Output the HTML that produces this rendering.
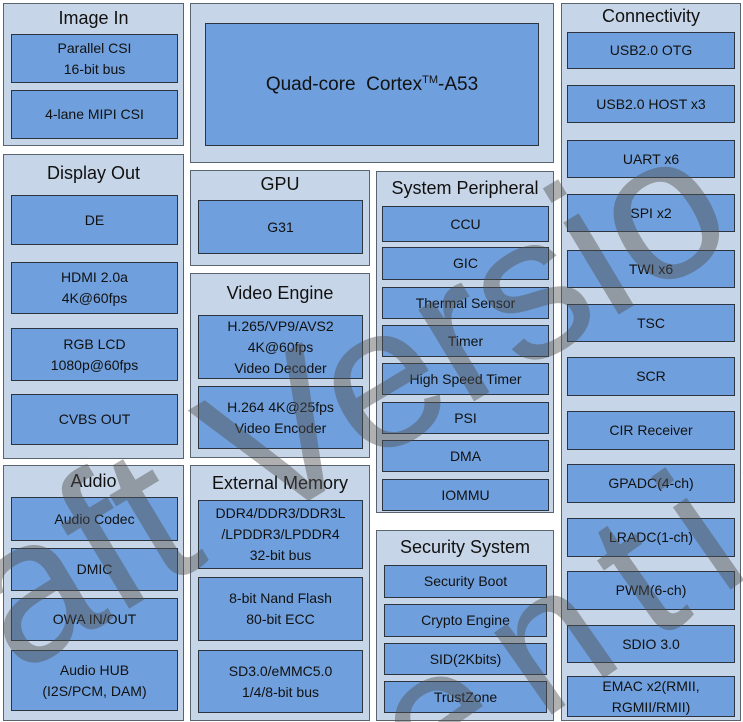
<!DOCTYPE html>
<html style="overflow:hidden;height:722px"><head><meta charset="utf-8"><style>
body{margin:0;width:743px;height:722px;background:#fff;position:relative;overflow:hidden;font-family:"Liberation Sans",sans-serif}
.c{position:absolute;background:#c6d5e7;border:1.5px solid #5a6470;box-sizing:border-box}
.t{position:absolute;font-size:18px;color:#111;text-align:center;white-space:nowrap}
.b{position:absolute;background:#6f9fdc;border:1.5px solid #2c3440;box-sizing:border-box;display:flex;align-items:center;justify-content:center;text-align:center;font-size:14px;line-height:21px;color:#111}
</style></head><body>
<div class="c" style="left:3px;top:3px;width:181px;height:143px"></div>
<div class="t" style="left:3px;top:8px;width:181px">Image In</div>
<div class="b" style="left:11px;top:34px;width:167px;height:49px">Parallel CSI<br>16-bit bus</div>
<div class="b" style="left:11px;top:90px;width:167px;height:49px">4-lane MIPI CSI</div>

<div class="c" style="left:190px;top:3px;width:364px;height:160px"></div>
<div class="b" style="left:205px;top:23px;width:334px;height:123px;font-size:19px">Quad-core&nbsp; Cortex<sup style="font-size:11px;position:relative;top:-4px">TM</sup>-A53</div>

<div class="c" style="left:561px;top:3px;width:180px;height:718px"></div>
<div class="t" style="left:561px;top:6px;width:180px">Connectivity</div>
<div class="b" style="left:567px;top:32px;width:168px;height:37px">USB2.0 OTG</div>
<div class="b" style="left:567px;top:85px;width:168px;height:38px">USB2.0 HOST x3</div>
<div class="b" style="left:567px;top:140px;width:168px;height:38px">UART x6</div>
<div class="b" style="left:567px;top:194px;width:168px;height:38px">SPI x2</div>
<div class="b" style="left:567px;top:250px;width:168px;height:38px">TWI x6</div>
<div class="b" style="left:567px;top:304px;width:168px;height:38px">TSC</div>
<div class="b" style="left:567px;top:357px;width:168px;height:39px">SCR</div>
<div class="b" style="left:567px;top:411px;width:168px;height:39px">CIR Receiver</div>
<div class="b" style="left:567px;top:464px;width:168px;height:39px">GPADC(4-ch)</div>
<div class="b" style="left:567px;top:518px;width:168px;height:39px">LRADC(1-ch)</div>
<div class="b" style="left:567px;top:571px;width:168px;height:39px">PWM(6-ch)</div>
<div class="b" style="left:567px;top:625px;width:168px;height:38px">SDIO 3.0</div>
<div class="b" style="left:567px;top:676px;width:168px;height:41px">EMAC x2(RMII,<br>RGMII/RMII)</div>

<div class="c" style="left:3px;top:154px;width:181px;height:305px"></div>
<div class="t" style="left:3px;top:163px;width:181px">Display Out</div>
<div class="b" style="left:11px;top:195px;width:167px;height:50px">DE</div>
<div class="b" style="left:11px;top:262px;width:167px;height:52px">HDMI 2.0a<br>4K@60fps</div>
<div class="b" style="left:11px;top:328px;width:167px;height:53px">RGB LCD<br>1080p@60fps</div>
<div class="b" style="left:11px;top:394px;width:167px;height:51px">CVBS OUT</div>

<div class="c" style="left:190px;top:170px;width:180px;height:96px"></div>
<div class="t" style="left:190px;top:174px;width:180px">GPU</div>
<div class="b" style="left:198px;top:200px;width:165px;height:54px">G31</div>

<div class="c" style="left:376px;top:171px;width:178px;height:342px"></div>
<div class="t" style="left:376px;top:178px;width:178px">System Peripheral</div>
<div class="b" style="left:382px;top:206px;width:167px;height:36px">CCU</div>
<div class="b" style="left:382px;top:247px;width:167px;height:33px">GIC</div>
<div class="b" style="left:382px;top:287px;width:167px;height:32px">Thermal Sensor</div>
<div class="b" style="left:382px;top:325px;width:167px;height:32px">Timer</div>
<div class="b" style="left:382px;top:363px;width:167px;height:32px">High Speed Timer</div>
<div class="b" style="left:382px;top:402px;width:167px;height:32px">PSI</div>
<div class="b" style="left:382px;top:440px;width:167px;height:32px">DMA</div>
<div class="b" style="left:382px;top:479px;width:167px;height:32px">IOMMU</div>

<div class="c" style="left:190px;top:273px;width:180px;height:185px"></div>
<div class="t" style="left:190px;top:283px;width:180px">Video Engine</div>
<div class="b" style="left:198px;top:315px;width:165px;height:64px">H.265/VP9/AVS2<br>4K@60fps<br>Video Decoder</div>
<div class="b" style="left:198px;top:386px;width:165px;height:63px">H.264 4K@25fps<br>Video Encoder</div>

<div class="c" style="left:3px;top:465px;width:181px;height:256px"></div>
<div class="t" style="left:3px;top:471px;width:181px">Audio</div>
<div class="b" style="left:11px;top:497px;width:167px;height:44px">Audio Codec</div>
<div class="b" style="left:11px;top:548px;width:167px;height:43px">DMIC</div>
<div class="b" style="left:11px;top:598px;width:167px;height:43px">OWA IN/OUT</div>
<div class="b" style="left:11px;top:650px;width:167px;height:61px">Audio HUB<br>(I2S/PCM, DAM)</div>

<div class="c" style="left:190px;top:465px;width:180px;height:256px"></div>
<div class="t" style="left:190px;top:473px;width:180px">External Memory</div>
<div class="b" style="left:198px;top:500px;width:165px;height:69px">DDR4/DDR3/DDR3L<br>/LPDDR3/LPDDR4<br>32-bit bus</div>
<div class="b" style="left:198px;top:577px;width:165px;height:64px">8-bit Nand Flash<br>80-bit ECC</div>
<div class="b" style="left:198px;top:650px;width:165px;height:63px">SD3.0/eMMC5.0<br>1/4/8-bit bus</div>

<div class="c" style="left:376px;top:530px;width:178px;height:191px"></div>
<div class="t" style="left:376px;top:537px;width:178px">Security System</div>
<div class="b" style="left:384px;top:565px;width:163px;height:33px">Security Boot</div>
<div class="b" style="left:384px;top:604px;width:163px;height:33px">Crypto Engine</div>
<div class="b" style="left:384px;top:643px;width:163px;height:32px">SID(2Kbits)</div>
<div class="b" style="left:384px;top:681px;width:163px;height:32px">TrustZone</div>

<svg width="743" height="722" style="position:absolute;left:0;top:0;overflow:hidden" xmlns="http://www.w3.org/2000/svg">
<g font-family="Liberation Sans, sans-serif" fill="rgba(80,80,80,0.45)">
<text x="17" y="676" font-size="203" transform="rotate(-31 17 676)">aft Versio</text>
<text x="430" y="800" font-size="190" letter-spacing="30" transform="rotate(-35 430 800)">ential</text>
</g>
</svg>
</body></html>
